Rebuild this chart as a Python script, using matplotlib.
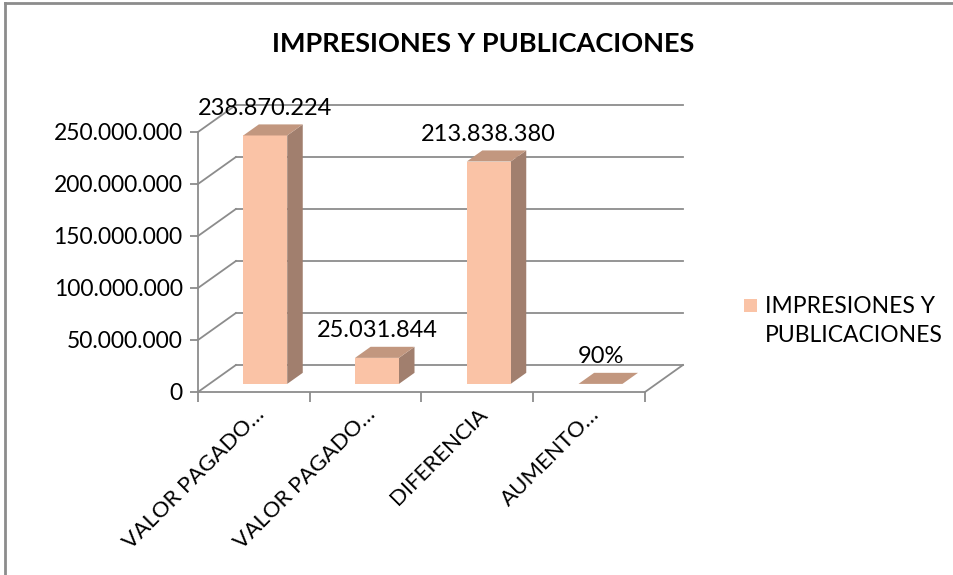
import matplotlib
matplotlib.use("Agg")
import matplotlib.pyplot as plt
from matplotlib.patches import Polygon, Rectangle
from matplotlib.lines import Line2D

plt.rcParams['font.family'] = ['Lato', 'DejaVu Sans']

title = "IMPRESIONES Y PUBLICACIONES"
categories = ["VALOR PAGADO…", "VALOR PAGADO…", "DIFERENCIA", "AUMENTO…"]
values = [238870224, 25031844, 213838380, 0.9]
value_labels = ["238.870.224", "25.031.844", "213.838.380", "90%"]
yticks = [0, 50000000, 100000000, 150000000, 200000000, 250000000]
ytick_labels = ["0", "50.000.000", "100.000.000", "150.000.000", "200.000.000", "250.000.000"]
series_name = "IMPRESIONES Y\nPUBLICACIONES"

FRONT = "#FAC3A6"
SIDE = "#A17F6E"
TOP = "#C2977F"
GRID = "#8C8C8C"

fig = plt.figure(figsize=(9.54, 5.75), dpi=100)
ax = fig.add_axes([198/954, 1-392/575, (645-198)/954, (392-132)/575])
ax.set_xlim(-0.5, len(categories)-0.5)
ax.set_ylim(0, 250000000)

# oblique depth projection in data units
KX = 38/112.0
KY = 27/260.0*250000000

def P(x, y, z):
    return (x + z*KX, y + z*KY)

lw = 1.3
x0a, x1a = -0.5, len(categories)-0.5
for t in yticks:
    a = P(x0a, t, 1); b = P(x1a, t, 1)
    ax.add_line(Line2D([a[0], b[0]], [a[1], b[1]], color=GRID, lw=lw, clip_on=False, zorder=1))
    a = P(x0a, t, 0); b = P(x0a, t, 1)
    ax.add_line(Line2D([a[0], b[0]], [a[1], b[1]], color=GRID, lw=lw, clip_on=False, zorder=1))
a = P(x1a, 0, 0); b = P(x1a, 0, 1)
ax.add_line(Line2D([a[0], b[0]], [a[1], b[1]], color=GRID, lw=lw, clip_on=False, zorder=1))

w = 0.393
z0, z1 = 0.30, 0.71
for i, v in enumerate(values):
    xl, xr = i - w/2, i + w/2
    front = [P(xl, 0, z0), P(xr, 0, z0), P(xr, v, z0), P(xl, v, z0)]
    side = [P(xr, 0, z0), P(xr, 0, z1), P(xr, v, z1), P(xr, v, z0)]
    top = [P(xl, v, z0), P(xr, v, z0), P(xr, v, z1), P(xl, v, z1)]
    for poly, c in ((side, SIDE), (front, FRONT), (top, TOP)):
        ax.add_patch(Polygon(poly, closed=True, facecolor=c, edgecolor='none', clip_on=False, zorder=3))
    lx = P(i, v, z0)[0]
    ly = P(i, v, z1)[1]
    ax.annotate(value_labels[i], (lx, ly), xytext=(0, 4), textcoords='offset points',
                ha='center', va='bottom', fontsize=17, color='black', zorder=5, annotation_clip=False)

for s in ('top', 'right'):
    ax.spines[s].set_visible(False)
for s in ('left', 'bottom'):
    ax.spines[s].set_color(GRID)
    ax.spines[s].set_linewidth(lw)
ax.set_facecolor('none')

ax.set_yticks(yticks)
ax.set_yticklabels(ytick_labels, fontsize=16.5)
ax.tick_params(axis='y', length=6, width=lw, color=GRID, pad=5)

ax.set_xticks([i - 0.5 for i in range(len(categories)+1)])
ax.set_xticklabels([])
ax.tick_params(axis='x', which='major', length=7, width=lw, color=GRID)
ax.set_xticks(list(range(len(categories))), minor=True)
ax.set_xticklabels(categories, minor=True, rotation=45, ha='right', va='top',
                   rotation_mode='anchor', fontsize=16)
ax.tick_params(axis='x', which='minor', length=0, pad=9)

fig.text(483/954, 1-44/575, title, ha='center', va='center', fontsize=19.5, fontweight='bold')

# legend (manual)
fig.add_artist(Rectangle((744/954, 1-312/575), 13/954, 13/575, facecolor=FRONT, edgecolor='none',
                         transform=fig.transFigure))
fig.text(765/954, 1-296/575, series_name, ha='left', va='top', fontsize=16.5, linespacing=1.45)

# chart border (left and top edges)
fig.add_artist(Line2D([5/954, 5/954], [0, 1-3/575], color='#8C8C8C', lw=2, transform=fig.transFigure))
fig.add_artist(Line2D([5/954, 1], [1-3/575, 1-3/575], color='#8C8C8C', lw=2, transform=fig.transFigure))

fig.savefig("out.png", dpi=100)
